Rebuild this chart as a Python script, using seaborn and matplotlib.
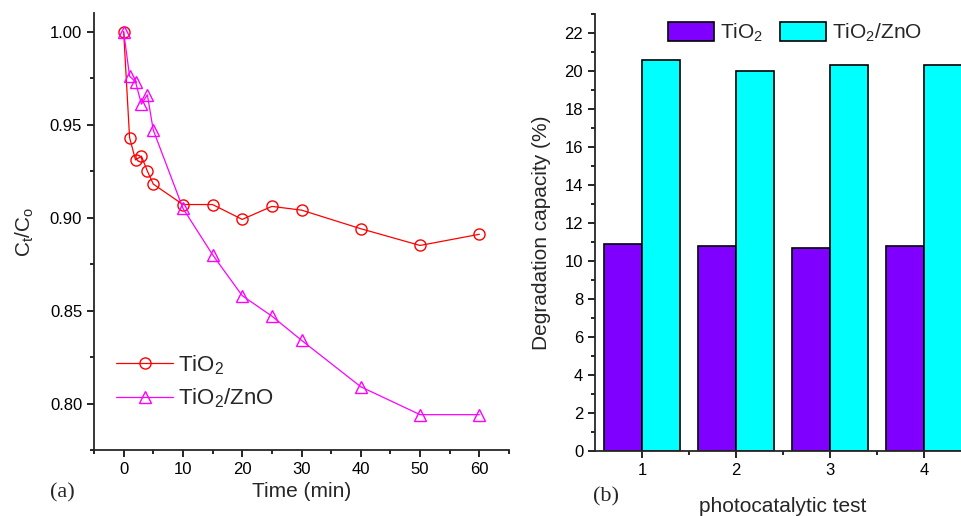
import matplotlib
matplotlib.use("Agg")
from matplotlib import pyplot as plt
from matplotlib.ticker import MultipleLocator, FixedLocator
import numpy as np
import pandas as pd
import seaborn as sns

# (a) kinetics
time_min = [0, 1, 2, 3, 4, 5, 10, 15, 20, 25, 30, 40, 50, 60]
ct_tio2 = [1.000, 0.943, 0.931, 0.933, 0.925, 0.918, 0.907, 0.907, 0.899,
           0.906, 0.904, 0.894, 0.885, 0.891]
ct_tio2_zno = [1.000, 0.976, 0.973, 0.961, 0.966, 0.947, 0.905, 0.880,
               0.858, 0.847, 0.834, 0.809, 0.794, 0.794]

# (b) reuse tests
tests = ["1", "2", "3", "4"]
deg_tio2 = [10.9, 10.8, 10.7, 10.8]
deg_tio2_zno = [20.6, 20.0, 20.3, 20.3]

lab1 = "TiO$_2$"
lab2 = "TiO$_2$/ZnO"

sns.set_style("ticks")
plt.rcParams['font.family'] = ['Liberation Sans', 'DejaVu Sans']
plt.rcParams['mathtext.fontset'] = 'custom'
plt.rcParams['mathtext.rm'] = 'Liberation Sans'
plt.rcParams['mathtext.it'] = 'Liberation Sans'
plt.rcParams['mathtext.default'] = 'regular'
plt.rcParams['axes.linewidth'] = 1.3
for ax_ in ("xtick", "ytick"):
    plt.rcParams[ax_ + ".direction"] = "out"
    plt.rcParams[ax_ + ".major.size"] = 5
    plt.rcParams[ax_ + ".minor.size"] = 3
    plt.rcParams[ax_ + ".major.width"] = 1.2
    plt.rcParams[ax_ + ".minor.width"] = 1.2
    plt.rcParams[ax_ + ".color"] = "black"
    plt.rcParams[ax_ + ".labelsize"] = 12

fig = plt.figure(figsize=(9.61, 5.16), dpi=100)
ax1 = fig.add_axes([94/961, 1-450/516, 415/961, 437/516])
ax2 = fig.add_axes([595/961, 1-451/516, 376/961, 437/516])

# ---- left panel
sns.lineplot(x=time_min, y=ct_tio2, ax=ax1, color="red", lw=0.9,
             marker="o", markersize=8, markerfacecolor="none",
             markeredgecolor="red", markeredgewidth=1.0, label=lab1)
sns.lineplot(x=time_min, y=ct_tio2_zno, ax=ax1, color="magenta", lw=0.9,
             marker="^", markersize=9, markerfacecolor="none",
             markeredgecolor="magenta", markeredgewidth=1.0, label=lab2)
ax1.set_xlim(-5, 65)
ax1.set_ylim(0.775, 1.01)
ax1.xaxis.set_major_locator(FixedLocator([0, 10, 20, 30, 40, 50, 60]))
ax1.xaxis.set_minor_locator(FixedLocator([-5, 5, 15, 25, 35, 45, 55, 65]))
ax1.yaxis.set_major_locator(FixedLocator([0.80, 0.85, 0.90, 0.95, 1.00]))
ax1.yaxis.set_minor_locator(FixedLocator([0.775, 0.825, 0.875, 0.925, 0.975]))
ax1.set_xlabel("Time (min)", fontsize=15)
ax1.set_ylabel("C$_t$/C$_o$", fontsize=15, labelpad=10)
ax1.legend(loc="lower left", bbox_to_anchor=(0.004, 0.045), frameon=False,
           fontsize=16, handlelength=2.6, handletextpad=0.2, labelspacing=0.45)
sns.despine(ax=ax1)

# ---- right panel
df = pd.DataFrame({
    "test": tests * 2,
    "deg": deg_tio2 + deg_tio2_zno,
    "cat": [lab1] * 4 + [lab2] * 4,
})
sns.barplot(data=df, x="test", y="deg", hue="cat", ax=ax2,
            palette=["#8000FF", "#00FFFF"], edgecolor="black", linewidth=1.2,
            saturation=1, width=0.8)
ax2.set_xlim(-0.5, 3.5)
ax2.set_ylim(0, 23)
ax2.yaxis.set_major_locator(MultipleLocator(2))
ax2.yaxis.set_minor_locator(MultipleLocator(1))
ax2.xaxis.set_minor_locator(FixedLocator([0.5, 1.5, 2.5]))
ax2.set_xlabel("photocatalytic test", fontsize=15, labelpad=14)
ax2.set_ylabel("Degradation capacity (%)", fontsize=15, labelpad=10)
ax2.legend(loc="upper left", bbox_to_anchor=(0.144, 1.025), ncol=2,
           frameon=False, fontsize=15, handlelength=2.2, handleheight=1.0,
           handletextpad=0.3, columnspacing=0.8)
sns.despine(ax=ax2)

fig.text(50/961, 1-493/516, "(a)", family=["Liberation Serif"], fontsize=16,
         va="center")
fig.text(593/961, 1-497/516, "(b)", family=["Liberation Serif"], fontsize=16,
         va="center")

fig.savefig("out.png", dpi=100)
